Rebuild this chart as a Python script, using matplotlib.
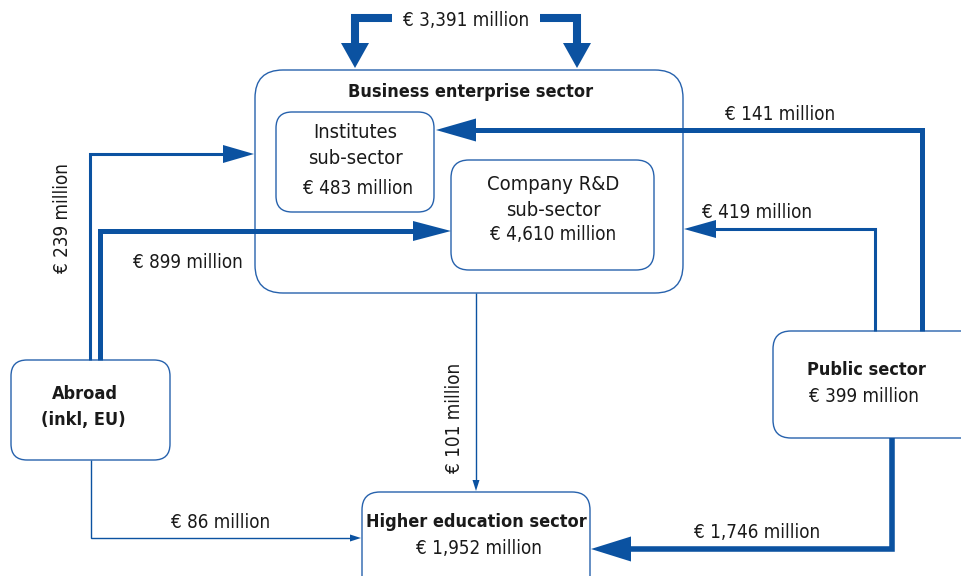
import matplotlib
matplotlib.use('Agg')
import matplotlib.pyplot as plt
from matplotlib.patches import FancyBboxPatch, Polygon

# R&D funding flows (EUR million)
sectors = ['Business enterprise sector', 'Institutes sub-sector', 'Company R&D sub-sector',
           'Abroad (inkl, EU)', 'Public sector', 'Higher education sector']
sector_values = [None, 483, 4610, None, 399, 1952]
flow_names = ['internal', 'public_inst', 'public_comp', 'abroad_inst', 'abroad_comp',
              'business_he', 'abroad_he', 'public_he']
flow_values = [3391, 141, 419, 239, 899, 101, 86, 1746]

BLUE = '#0b52a1'
EDGE = '#2762ad'
FAM = 'DejaVu Sans'

def eur(v):
    return f'€ {v:,} million'

fig = plt.figure(figsize=(9.61, 5.76), dpi=100)
ax = fig.add_axes([0, 0, 1, 1])
ax.set_xlim(0, 961)
ax.set_ylim(576, 0)
ax.axis('off')

def box(x0, y0, x1, y1, r):
    ax.add_patch(FancyBboxPatch((x0, y0), x1 - x0, y1 - y0,
                                boxstyle=f'round,pad=0,rounding_size={r}',
                                fc='white', ec=EDGE, lw=1.0, zorder=2))

def arrow(pts, lw, hl, hw):
    xs = [p[0] for p in pts]
    ys = [p[1] for p in pts]
    # line stops inside the head
    (xa, ya), (xb, yb) = pts[-2], pts[-1]
    dx, dy = xb - xa, yb - ya
    n = (dx ** 2 + dy ** 2) ** 0.5
    ux, uy = dx / n, dy / n
    xs[-1] = xb - ux * hl * 0.9
    ys[-1] = yb - uy * hl * 0.9
    ax.plot(xs, ys, color=BLUE, lw=lw, solid_joinstyle='miter',
            solid_capstyle='butt', zorder=3)
    bx, by = xb - ux * hl, yb - uy * hl
    px, py = -uy, ux
    tri = [(xb, yb), (bx + px * hw / 2, by + py * hw / 2), (bx - px * hw / 2, by - py * hw / 2)]
    ax.add_patch(Polygon(tri, closed=True, fc=BLUE, ec='none', zorder=3))

def label(x, y, s, size=13.5, rot=0, bold=False):
    ax.text(x, y, s, ha='center', va='center', fontsize=size, family=FAM,
            fontstretch='condensed', weight='bold' if bold else 'normal',
            rotation=rot, color='#1a1a1a', zorder=4)

# boxes
box(255, 70, 683, 293, 28)
box(276, 112, 434, 212, 16)
box(451, 160, 654, 270, 18)
box(11, 360, 170, 460, 16)
box(773, 331, 985, 438, 18)
box(362, 492, 590, 600, 18)

# arrows
arrow([(392, 18), (355, 18), (355, 68)], 5.8, 25, 28)
arrow([(540, 18), (577, 18), (577, 68)], 5.8, 25, 28)
arrow([(922, 331), (922, 130), (436, 130)], 3.6, 40, 23)
arrow([(875, 331), (875, 229), (684, 229)], 2.2, 32, 18)
arrow([(90, 360), (90, 154), (254, 154)], 2.2, 31, 18)
arrow([(100, 360), (100, 231), (451, 231)], 3.6, 38, 20)
arrow([(476, 293), (476, 491)], 1.0, 11, 7)
arrow([(91, 460), (91, 538), (361, 538)], 1.0, 11, 7)
arrow([(892, 438), (892, 549), (591, 549)], 4.0, 40, 25)

# flow labels
label(466, 20, eur(flow_values[0]))
label(780, 115, eur(flow_values[1]))
label(757, 212, eur(flow_values[2]))
label(62, 218, eur(flow_values[3]), rot=90)
label(188, 263, eur(flow_values[4]))
label(455, 418, eur(flow_values[5]), rot=90)
label(221, 522, eur(flow_values[6]))
label(757, 532, eur(flow_values[7]))

# sector labels
bfs = 13
label(471, 92, sectors[0], size=bfs, bold=True)
label(355, 133, 'Institutes', size=14.5)
label(355, 159, 'sub-sector', size=14.5)
label(358, 189, eur(sector_values[1]))
label(553, 185, 'Company R&D', size=14.5)
label(553, 210, 'sub-sector', size=14.5)
label(553, 234, eur(sector_values[2]))
label(85, 394, 'Abroad', size=bfs, bold=True)
label(83, 420, '(inkl, EU)', size=bfs, bold=True)
label(866, 370, sectors[4], size=bfs, bold=True)
label(864, 397, eur(sector_values[4]))
label(476, 522, sectors[5], size=bfs, bold=True)
label(479, 549, eur(sector_values[5]))

fig.savefig('out.png', dpi=100)
